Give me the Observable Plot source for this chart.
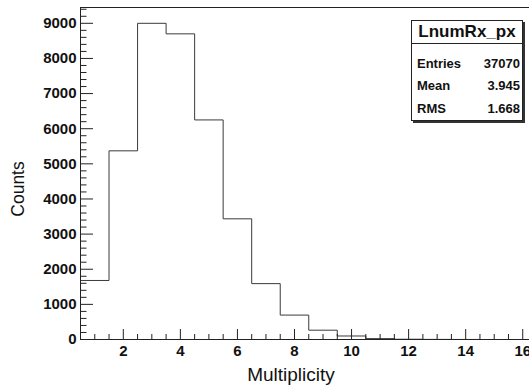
<!DOCTYPE html>
<html>
<head>
<meta charset="utf-8">
<script src="https://cdn.jsdelivr.net/npm/d3@7"></script>
<script src="https://cdn.jsdelivr.net/npm/@observablehq/plot@0.6"></script>
<style>
  html, body { margin: 0; padding: 0; background: #fff; overflow: hidden; }
  #wrap { position: relative; width: 529px; height: 389px; overflow: hidden; font-family: "Liberation Sans", Arial, sans-serif; }
  #wrap svg { position: absolute; left: 0; top: 0; max-width: none; }
  .t { position: absolute; white-space: nowrap; line-height: 1; color: #111; }
  #stats { position: absolute; left: 411px; top: 20px; width: 110px; height: 99px; border: 1px solid #222; box-shadow: 2px 2px 0 #333; background: #fff; }
  #stats .div { position: absolute; left: 0; right: 0; top: 22px; border-top: 1px solid #222; }
</style>
</head>
<body>
<div id="wrap"></div>
<script>
// Histogram LnumRx_px: counts per multiplicity bin (unit-width bins centred on integers)
const multiplicity = [1, 2, 3, 4, 5, 6, 7, 8, 9, 10, 11, 12, 13, 14, 15, 16];
const counts = [1680, 5370, 9000, 8700, 6250, 3435, 1590, 695, 265, 100, 25, 8, 3, 1, 0, 0];

// Axis ticks and labels
const xTicks = [2, 4, 6, 8, 10, 12, 14, 16];
const yTicks = [0, 1000, 2000, 3000, 4000, 5000, 6000, 7000, 8000, 9000];
const xMinorTicks = d3.range(1, 17, 0.5).filter(v => !xTicks.includes(v));
const yMinorTicks = d3.range(0, 9450, 200).filter(v => v % 1000 !== 0);

// Statistics box
const statsTitle = "LnumRx_px";
const statsNames = ["Entries", "Mean", "RMS"];
const statsValues = ["37070", "3.945", "1.668"];

const xTitle = "Multiplicity";
const yTitle = "Counts";

// outline of the histogram as a step line from the low edge of every bin
const outline = [{x: multiplicity[0] - 0.5, y: 0}]
  .concat(multiplicity.map((m, i) => ({x: m - 0.5, y: counts[i]})))
  .concat([{x: multiplicity[multiplicity.length - 1] + 0.5, y: counts[counts.length - 1]}]);

const font = "Liberation Sans, Arial, sans-serif";
const W = 529, H = 389, mL = 80, mT = 7, mB = 50;
// the pad runs a little past the right edge of the page, so the x range does too
const xRange = [mL, 536.5];
const xDomain = [0.5, 16.5], yDomain = [0, 9450];
// data units per pixel, used to give the inward tick marks a fixed pixel length
const xPerPx = (xDomain[1] - xDomain[0]) / (xRange[1] - xRange[0]);
const yPerPx = (yDomain[1] - yDomain[0]) / (H - mT - mB);

const chart = Plot.plot({
  width: W,
  height: H,
  marginLeft: mL,
  marginRight: 0,
  marginTop: mT,
  marginBottom: mB,
  style: {fontFamily: font, background: "transparent", color: "#111", maxWidth: "none"},
  x: {domain: xDomain, range: xRange, axis: null},
  y: {domain: yDomain, axis: null},
  marks: [
    Plot.line(outline, {x: "x", y: "y", curve: "step-after", stroke: "#3a3a3a", strokeWidth: 1}),
    // inward ticks, ROOT style
    Plot.ruleY(yTicks, {y: d => d, x1: xDomain[0], x2: xDomain[0] + 13 * xPerPx, stroke: "#222", strokeWidth: 1}),
    Plot.ruleY(yMinorTicks, {y: d => d, x1: xDomain[0], x2: xDomain[0] + 6.5 * xPerPx, stroke: "#222", strokeWidth: 1}),
    Plot.ruleX(xTicks, {x: d => d, y1: yDomain[0], y2: yDomain[0] + 10 * yPerPx, stroke: "#222", strokeWidth: 1}),
    Plot.ruleX(xMinorTicks, {x: d => d, y1: yDomain[0], y2: yDomain[0] + 5 * yPerPx, stroke: "#222", strokeWidth: 1}),
    // pad outline: left, bottom and top edges (right edge lies off the page)
    Plot.ruleX([xDomain[0]], {stroke: "#222"}),
    Plot.ruleY([yDomain[0], yDomain[1]], {stroke: "#222"}),
    // tick labels
    Plot.axisY(yTicks, {anchor: "left", tickSize: 0, tickPadding: 4, tickFormat: d3.format("d"), fontSize: 15, fontWeight: "bold", fill: "#111", label: null}),
    Plot.axisX(xTicks, {anchor: "bottom", tickSize: 0, tickPadding: 6, tickFormat: d3.format("d"), fontSize: 15, fontWeight: "bold", fill: "#111", label: null})
  ]
});

const wrap = document.getElementById("wrap");
wrap.appendChild(chart);

function addText(parent, str, css) {
  const el = document.createElement("div");
  el.className = "t";
  el.textContent = str;
  Object.assign(el.style, css);
  parent.appendChild(el);
  return el;
}

// axis titles
addText(wrap, yTitle, {left: "19px", top: "189px", fontSize: "17.5px", transform: "translate(-50%, -50%) rotate(-90deg)"});
addText(wrap, xTitle, {left: "291px", top: "365px", fontSize: "19px", transform: "translateX(-50%)"});

// statistics box
const stats = document.createElement("div");
stats.id = "stats";
wrap.appendChild(stats);
const divider = document.createElement("div");
divider.className = "div";
stats.appendChild(divider);
addText(stats, statsTitle, {left: "55px", top: "2px", fontSize: "17px", fontWeight: "bold", transform: "translateX(-50%)"});
const rowTops = [36, 58, 81];
statsNames.forEach((name, i) => {
  addText(stats, name, {left: "5px", top: rowTops[i] + "px", fontSize: "13px", fontWeight: "bold"});
  addText(stats, statsValues[i], {right: "2px", top: rowTops[i] + "px", fontSize: "13px", fontWeight: "bold"});
});
</script>
</body>
</html>
